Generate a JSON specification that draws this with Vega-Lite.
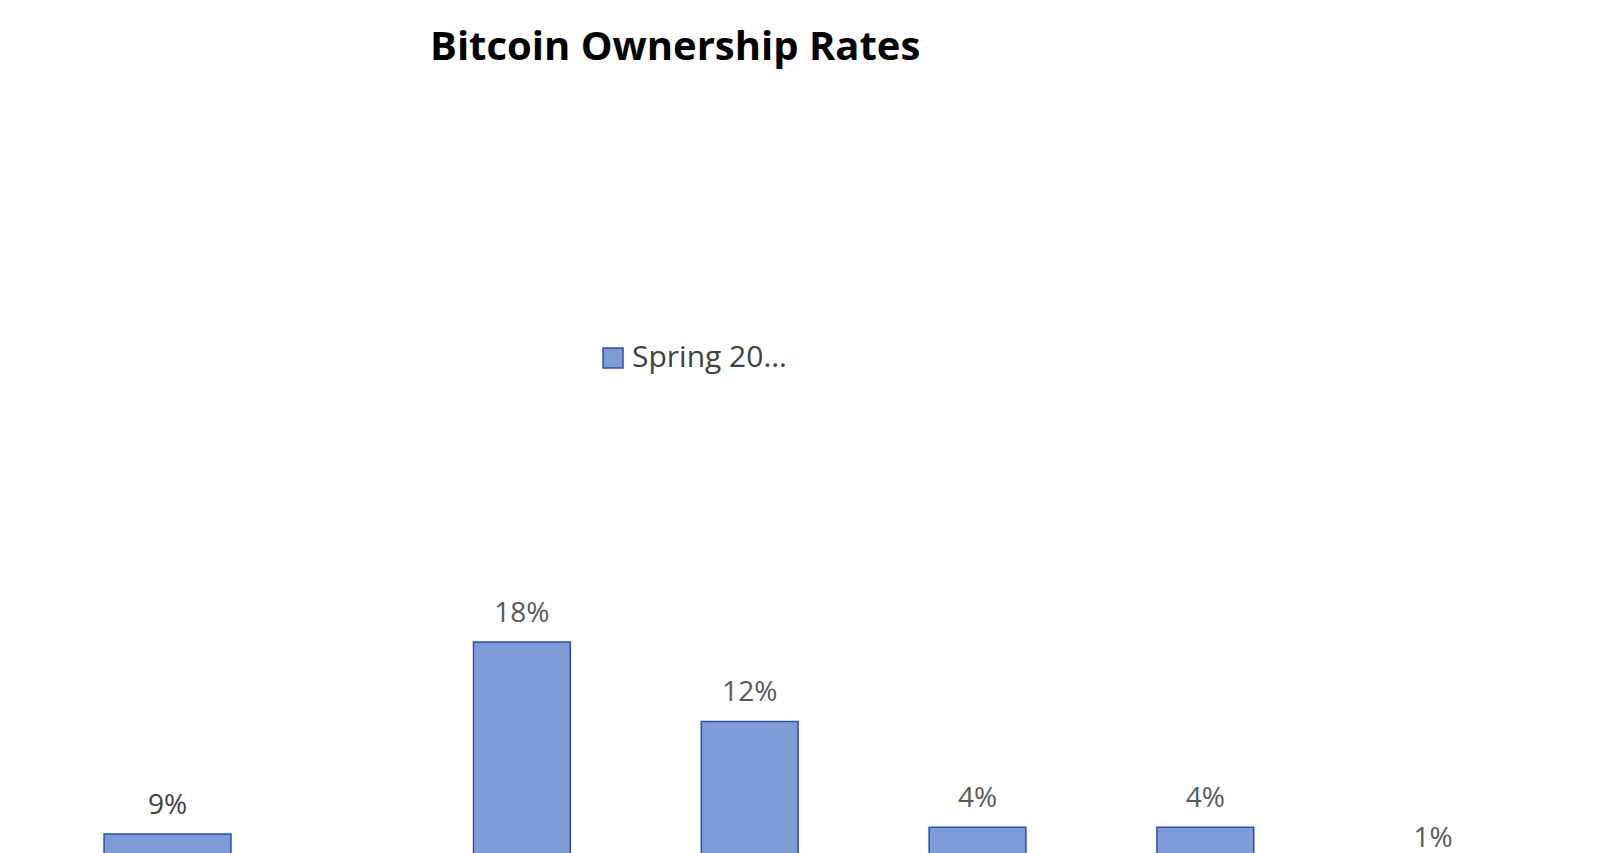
{
  "$schema": "https://vega.github.io/schema/vega-lite/v6.json",
  "padding": {"left": 0, "top": 28, "right": 0, "bottom": 0},
  "title": {
    "text": "Bitcoin Ownership Rates",
    "anchor": "start",
    "frame": "group",
    "dx": 430,
    "offset": 275,
    "fontSize": 40,
    "font": "Open Sans",
    "fontWeight": "bold",
    "color": "#000000"
  },
  "config": {
    "font": "Open Sans",
    "view": {"stroke": null},
    "axisX": {
      "domainColor": "#bfbfbf",
      "domainWidth": 1.5,
      "ticks": false,
      "labelAngle": 0,
      "labelFontSize": 32,
      "labelColor": "#595959",
      "labelPadding": 38,
      "titleFontSize": 34,
      "titleFontWeight": "normal",
      "titleColor": "#000000",
      "titlePadding": 24
    }
  },
  "datasets": {
    "total": [{"group": "Total", "series": "Spring 2019", "value": 0.09}],
    "age": [
      {"group": "18-34", "series": "Spring 2019", "value": 0.18},
      {"group": "35-44", "series": "Spring 2019", "value": 0.12},
      {"group": "45-54", "series": "Spring 2019", "value": 0.04},
      {"group": "55-64", "series": "Spring 2019", "value": 0.04},
      {"group": "65+", "series": "Spring 2019", "value": 0.01}
    ]
  },
  "spacing": 73,
  "resolve": {"scale": {"y": "independent"}},
  "hconcat": [
    {
      "width": 335,
      "height": 300,
      "data": {"name": "total"},
      "encoding": {
        "x": {
          "field": "group",
          "type": "nominal",
          "scale": {"paddingInner": 0, "paddingOuter": 0.82},
          "axis": {"labels": false, "title": "Total", "titlePadding": 105, "titleFontSize": 38}
        },
        "y": {"field": "value", "type": "quantitative", "scale": {"domain": [0, 0.588]}, "axis": null}
      },
      "layer": [
        {
          "mark": {"type": "bar", "fill": "#7f9bd6", "stroke": "#2a4fae", "strokeWidth": 1.5}
        },
        {
          "mark": {"type": "text", "dy": -28, "fontSize": 28, "color": "#404040"},
          "encoding": {"text": {"field": "value", "format": ".0%"}}
        }
      ]
    },
    {
      "width": 1139,
      "height": 300,
      "data": {"name": "age"},
      "encoding": {
        "x": {
          "field": "group",
          "type": "nominal",
          "sort": null,
          "scale": {"paddingInner": 0.575, "paddingOuter": 0.2875},
          "axis": {"title": "By Age", "titleFontSize": 38, "titlePadding": 26}
        },
        "y": {"field": "value", "type": "quantitative", "scale": {"domain": [0, 0.227]}, "axis": null}
      },
      "layer": [
        {
          "mark": {"type": "bar", "stroke": "#2a4fae", "strokeWidth": 1.5},
          "encoding": {
            "color": {
              "field": "series",
              "type": "nominal",
              "scale": {"range": ["#7f9bd6"]},
              "legend": {
                "title": null,
                "orient": "none",
                "legendX": 598,
                "legendY": -237,
                "labelFontSize": 30,
                "labelColor": "#404040",
                "symbolType": "square",
                "symbolSize": 400,
                "symbolStrokeColor": "#2a4fae",
                "symbolStrokeWidth": 1.5
              }
            }
          }
        },
        {
          "mark": {"type": "text", "dy": -28, "fontSize": 28, "color": "#595959"},
          "encoding": {"text": {"field": "value", "format": ".0%"}}
        }
      ]
    }
  ]
}
